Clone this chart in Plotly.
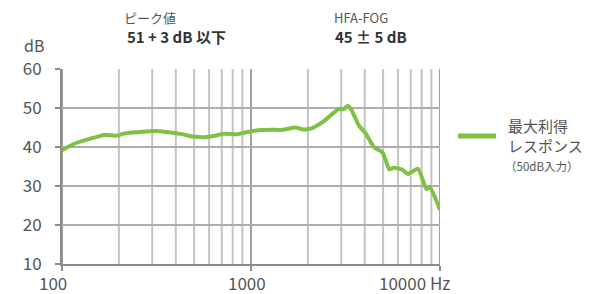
import math
import plotly.graph_objects as go

freq_hz = [100, 117, 138, 168, 194, 215, 253, 310, 366, 429, 506, 571, 634, 717, 842, 933,
           1093, 1284, 1480, 1709, 1893, 2094, 2415, 2678, 2906, 3094, 3267, 3432, 3725,
           4047, 4482, 4969, 5391, 5736, 6360, 6763, 7650, 8475, 8830, 10000]
gain_db = [39.2, 40.9, 42.0, 43.1, 42.9, 43.5, 43.8, 44.1, 43.8, 43.3, 42.6, 42.5, 42.8, 43.4, 43.25, 43.7,
           44.3, 44.4, 44.4, 45.0, 44.5, 44.8, 46.5, 48.4, 49.7, 49.7, 50.6, 49.1, 45.5,
           43.5, 39.9, 38.6, 34.3, 34.7, 34.1, 33.1, 34.4, 29.2, 29.7, 23.9]

y_ticks = [10, 20, 30, 40, 50, 60]
x_major = [100, 1000, 10000]
x_major_labels = ["100", "1000", "10000 Hz"]
x_minor = [m * d for d in (100, 1000) for m in range(2, 10)]

GREEN = "#7DC242"
FONT = "Noto Sans CJK JP"
OFF = 8  # page body margin in the browser
W, H = 591 - OFF, 294 - OFF
ML, MT = 62 - OFF, 69 - OFF
PW, PH = 378, 195
MR, MB = W - ML - PW, H - MT - PH

fig = go.Figure()
fig.add_trace(go.Scatter(x=freq_hz, y=gain_db, mode="lines",
                         line=dict(color=GREEN, width=4, shape="spline", smoothing=0.5),
                         showlegend=False, hoverinfo="skip", cliponaxis=False))

# vertical grid lines
for f in x_minor:
    fig.add_shape(type="line", xref="x", yref="y", x0=f, x1=f, y0=10, y1=60,
                  line=dict(color="#c4c4c4", width=2), layer="below")
for f in x_major:
    fig.add_shape(type="line", xref="x", yref="y", x0=f, x1=f, y0=10, y1=60,
                  line=dict(color="#a0a0a0", width=2), layer="below")

fig.update_xaxes(type="log", range=[2, 4], tickvals=x_major, ticktext=["", "", ""],
                 showgrid=False, zeroline=False, showline=True, linecolor="#8c8c8c", linewidth=2,
                 ticks="outside", ticklen=5, tickcolor="#8c8c8c", tickwidth=2, automargin=False)
fig.update_yaxes(range=[10, 60], tickvals=y_ticks, showgrid=True, gridcolor="#adadad", gridwidth=2,
                 zeroline=False, showline=True, linecolor="#8c8c8c", linewidth=2,
                 ticks="outside", ticklen=5, tickcolor="#8c8c8c", tickwidth=2,
                 tickfont=dict(family=FONT, size=17, color="#555555"), ticklabelstandoff=10,
                 automargin=False)


def pann(x, y, text, size, color, bold=False, xanchor="center"):
    # x, y given in target-window pixels
    return dict(x=(x - OFF - ML) / PW, y=(MT + PH - (y - OFF)) / PH, xref="paper", yref="paper",
                text=(f"<b>{text}</b>" if bold else text),
                showarrow=False, xanchor=xanchor, yanchor="middle", borderpad=0,
                font=dict(family=FONT, size=size, color=color))


ann = []
for f, t, xs, anch in zip(x_major, x_major_labels, [-9, -4, 12], ["center", "center", "right"]):
    ann.append(dict(x=math.log10(f), y=0, xref="x", yref="paper", text=t, showarrow=False,
                    xanchor=anch, yanchor="top", xshift=xs, yshift=-4,
                    font=dict(family=FONT, size=17, color="#555555")))
ann += [
    pann(34, 45, "dB", 16, "#555555"),
    pann(150, 17.5, "ピーク値", 13, "#555555"),
    pann(176, 37, "51 + 3 dB 以下", 15, "#333333", bold=True),
    pann(361, 17.5, "HFA-FOG", 13, "#555555"),
    pann(371, 37, "45 ± 5 dB", 15, "#333333", bold=True),
    pann(507, 125, "最大利得", 15, "#555555", xanchor="left"),
    pann(507, 145, "レスポンス", 15, "#555555", xanchor="left"),
    pann(504, 166, "（50dB入力）", 11.5, "#555555", xanchor="left"),
]

fig.update_layout(
    width=W, height=H,
    margin=dict(l=ML, r=MR, t=MT, b=MB, autoexpand=False),
    paper_bgcolor="white", plot_bgcolor="white",
    font=dict(family=FONT),
    annotations=ann,
)
fig.add_shape(type="line", xref="paper", yref="paper",
              x0=(458 - OFF - ML) / PW, x1=(496 - OFF - ML) / PW,
              y0=(MT + PH - (136 - OFF)) / PH, y1=(MT + PH - (136 - OFF)) / PH,
              line=dict(color=GREEN, width=5))

fig.write_html("out.html")
